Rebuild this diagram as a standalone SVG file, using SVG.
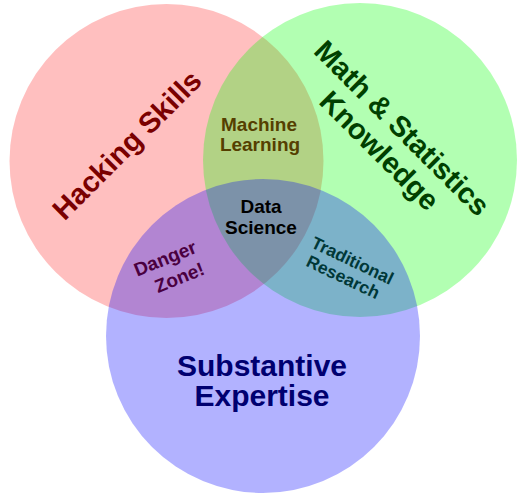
<svg xmlns="http://www.w3.org/2000/svg" width="524" height="500" viewBox="0 0 524 500">
<style>
text{font-family:"Liberation Sans",Arial,sans-serif;font-weight:bold;text-anchor:middle}
.big{font-size:29px}
.mid{font-size:19px}
.sm{font-size:17.5px}
</style>
<rect width="524" height="500" fill="#ffffff"/>
<g id="hacking">
<circle cx="166.5" cy="161" r="157" fill="#ff0000" fill-opacity="0.25"/>
</g>
<g id="math">
<circle cx="360" cy="160" r="157" fill="#00ff00" fill-opacity="0.3"/>
</g>
<g id="substantive">
<circle cx="263" cy="336" r="157" fill="#0000ff" fill-opacity="0.3"/>
</g>
<g id="connectors"/>
<g id="hacking-label"><text class="big" fill="#7a0000" transform="translate(134,152) rotate(-45)">Hacking Skills</text></g>
<g id="math-label" transform="translate(395,135) rotate(45)" fill="#004000">
<text class="big" x="0" y="0">Math &amp; Statistics</text>
<text class="big" x="0" y="32">Knowledge</text>
</g>
<g id="substantive-label" fill="#000070">
<text x="262" y="376" style="font-size:30px">Substantive</text>
<text x="262" y="406" style="font-size:30px">Expertise</text>
</g>
<g id="machine-learning" fill="#553f00">
<text class="mid" x="259" y="131">Machine</text>
<text class="mid" x="260" y="151">Learning</text>
</g>
<g id="data-science" fill="#000000">
<text class="mid" x="261" y="213">Data</text>
<text class="mid" x="261" y="234">Science</text>
</g>
<g id="danger-zone" fill="#4a0040">
<text class="mid" transform="translate(167.5,264.5) rotate(-22)">Danger</text>
<text class="mid" transform="translate(182,283.5) rotate(-22)">Zone!</text>
</g>
<g id="traditional-research" fill="#003838">
<text class="sm" transform="translate(350,266) rotate(25.5)">Traditional</text>
<text class="sm" transform="translate(340.5,282.5) rotate(25.5)">Research</text>
</g>
</svg>
